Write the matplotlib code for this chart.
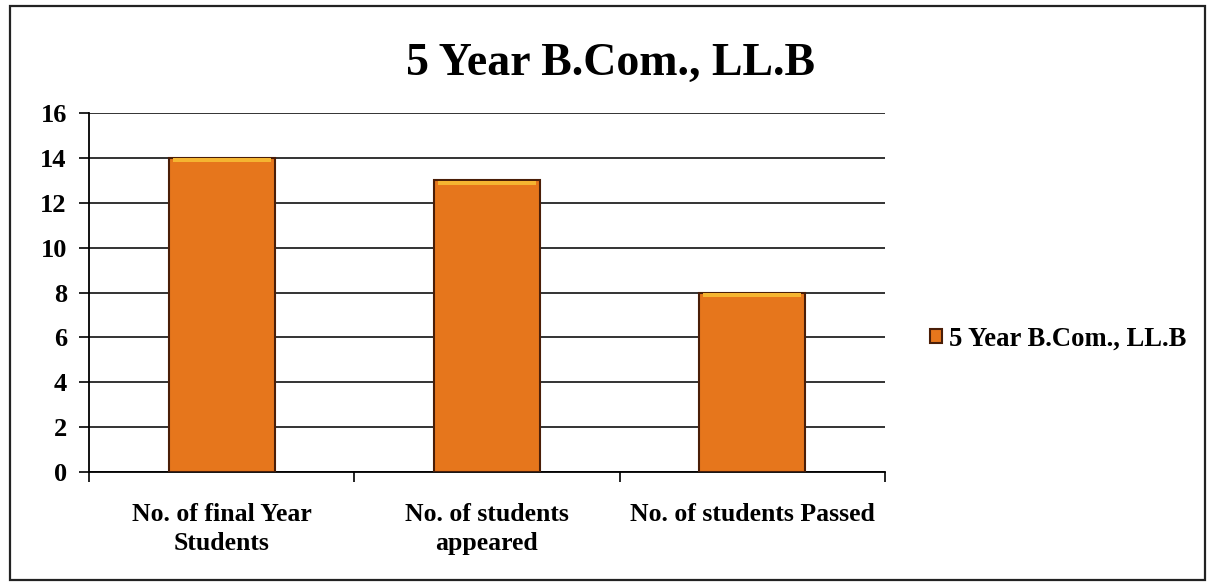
import matplotlib
matplotlib.use("Agg")
import matplotlib.pyplot as plt
from matplotlib.patches import Rectangle

categories = ["No. of final Year\nStudents", "No. of students\nappeared", "No. of students Passed"]
values = [14, 13, 8]
series_name = "5 Year B.Com., LL.B"
title = "5 Year B.Com., LL.B"
yticks = [0, 2, 4, 6, 8, 10, 12, 14, 16]

plt.rcParams['font.family'] = ['Liberation Serif', 'DejaVu Serif']

W, H = 1210, 586
fig = plt.figure(figsize=(W/100, H/100), dpi=100)
fig.patch.set_facecolor('white')

# figure border
fig.patches.append(Rectangle((10/W, 6/H), 1195/W, 574/H, transform=fig.transFigure,
                             fill=False, edgecolor='#222222', linewidth=1.6))

ax = fig.add_axes([89/W, 1-472/H, (885-89)/W, (472-113)/H])
x = list(range(len(categories)))
bars = ax.bar(x, values, width=0.4, color='#E6761C', edgecolor='#4a1e08',
              linewidth=1.5, label=series_name, zorder=3)
# lighter top strip for each bar
for xi, v in zip(x, values):
    ax.bar(xi, 0.18, bottom=v-0.2, width=0.37, color='#F5B531', edgecolor='none', zorder=4)

ax.set_xlim(-0.5, len(categories)-0.5)
ax.set_ylim(0, 16)
ax.set_yticks(yticks)
ax.set_yticklabels([str(t) for t in yticks], fontsize=19, fontweight='bold')
ax.yaxis.grid(True, color='#111111', linewidth=1.2, zorder=0)
ax.set_axisbelow(True)
ax.tick_params(axis='y', length=7, width=1.2, pad=9)

ax.set_xticks([i - 0.5 for i in range(len(categories)+1)], minor=True)
ax.set_xticks(x)
ax.set_xticklabels(categories, fontsize=18.5, fontweight='bold', linespacing=1.35)
ax.tick_params(axis='x', which='major', length=0, pad=22)
ax.tick_params(axis='x', which='minor', length=7, width=1.2, direction='out')

for s in ['top', 'right']:
    ax.spines[s].set_visible(False)
ax.spines['left'].set_linewidth(1.3)
ax.spines['bottom'].set_linewidth(1.3)

fig.text(611/W, 1-64/H, title, ha='center', va='center', fontsize=33, fontweight='bold')

leg = fig.legend(handles=[bars], labels=[series_name], loc='center left',
                 bbox_to_anchor=(906/W, 1-339/H), frameon=False,
                 prop={'size': 19.2, 'weight': 'bold'}, handlelength=0.45, handleheight=0.45,
                 handletextpad=0.25)

fig.savefig("out.png", dpi=100)
